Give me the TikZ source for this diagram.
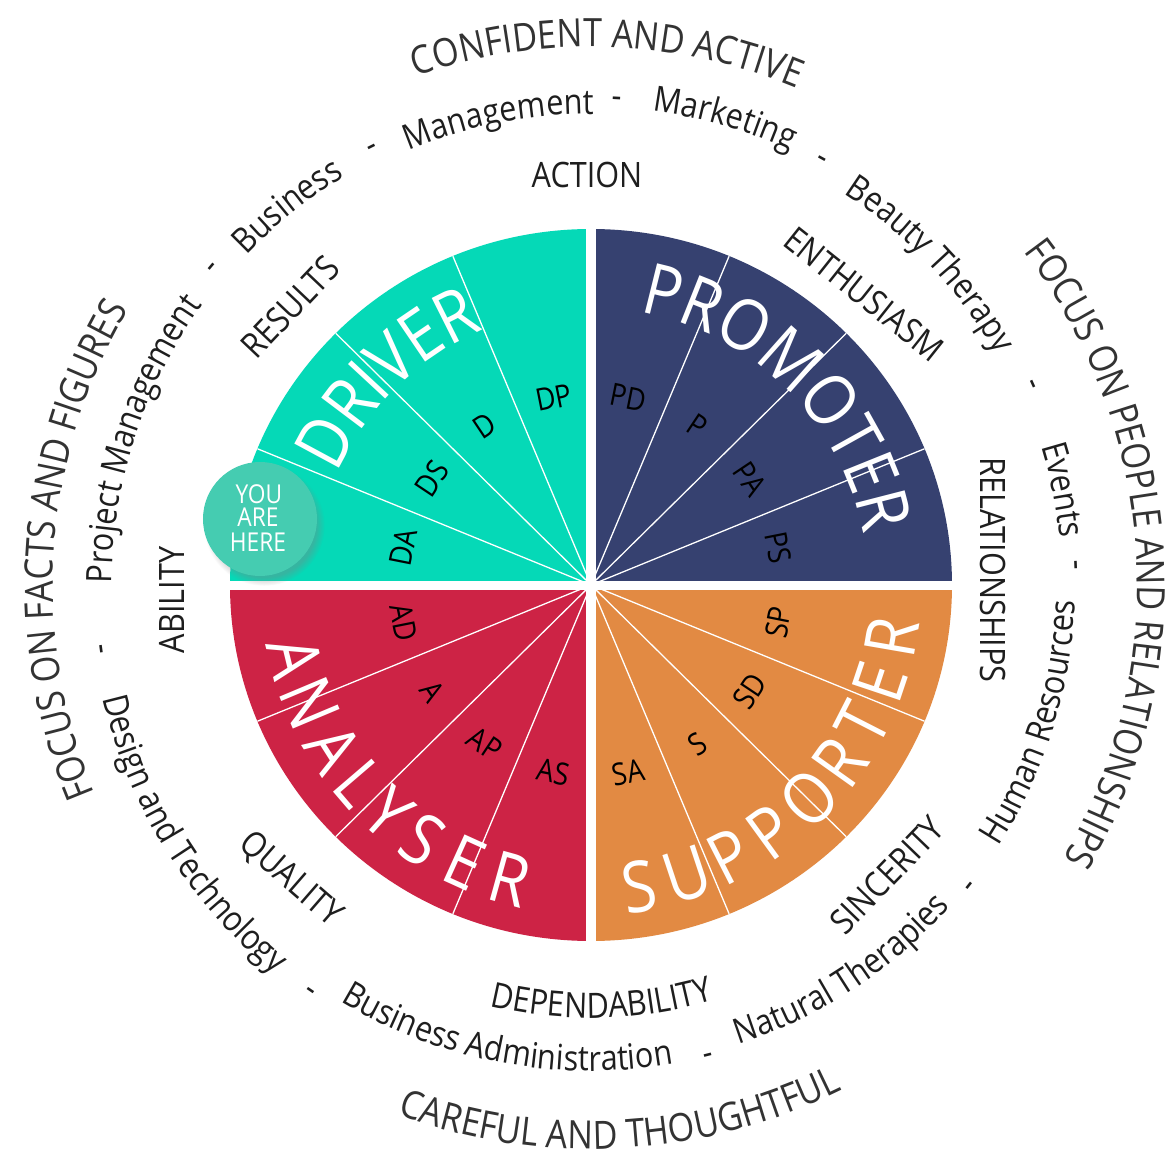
\documentclass[tikz,border=0pt]{standalone}
\usepackage{fontspec}
\setmainfont{Open Sans}[FakeStretch=0.875]
\usetikzlibrary{decorations.text,shadows}
\definecolor{cDriver}{HTML}{05D9B7}
\definecolor{cPromoter}{HTML}{364170}
\definecolor{cSupporter}{HTML}{E28A43}
\definecolor{cAnalyser}{HTML}{CD2345}
\definecolor{cHere}{HTML}{45CCB1}
\definecolor{cOuter}{HTML}{333333}
\definecolor{cMid}{HTML}{1E1E1E}
\newcommand\cwtext[4]{\path[decorate,decoration={text along path,text align=center,text={|#3|#4}}] ({#1+80}:#2) arc[start angle={#1+80},end angle={#1-80},radius=#2];}
\newcommand\ccwtext[4]{\path[decorate,decoration={text along path,text align=center,text={|#3|#4}}] ({#1-80}:#2) arc[start angle={#1-80},end angle={#1+80},radius=#2];}
\newcommand\outf{\fontsize{39}{45}\selectfont\color{cOuter}}
\newcommand\midf{\fontsize{35}{40}\selectfont\color{cMid}}
\newcommand\innf{\fontsize{35}{40}\selectfont\color{cMid}}
\newcommand\bigf{\fontsize{71}{80}\selectfont\color{white}}
\tikzset{
  innerlab/.style={font=\fontsize{35}{40}\selectfont, text=cMid, inner sep=0pt, text height=25pt, text depth=0pt},
  slicelab/.style={font=\fontsize{31}{35}\selectfont, text=black, inner sep=0pt, text height=22pt, text depth=0pt},
  herelab/.style={font=\fontsize{26}{30}\selectfont, text=white, inner sep=0pt, text height=18.5pt, text depth=0pt},
  bigletter/.style={font=\fontsize{71}{80}\selectfont, text=white, inner sep=0pt, text height=51pt, text depth=0pt},
  sliceline/.style={white, line width=1.3pt},
}
\begin{document}
\begin{tikzpicture}[x=1pt,y=1pt]
\fill[white] (-591,-572) rectangle (580,585);
\useasboundingbox (-591,-572) rectangle (580,585);
% quadrants
\fill[cPromoter] (0,0) -- (0,356) arc[start angle=90,end angle=0,x radius=361,y radius=356] -- cycle;
\fill[cDriver] (0,0) -- (-361,0) arc[start angle=180,end angle=90,x radius=361,y radius=356] -- cycle;
\fill[cAnalyser] (0,0) -- (-361,0) arc[start angle=180,end angle=270,x radius=361,y radius=356] -- cycle;
\fill[cSupporter] (0,0) -- (0,-356) arc[start angle=270,end angle=360,x radius=361,y radius=356] -- cycle;
% slice lines
\foreach \a in {22.5,45,67.5,112.5,135,157.5,202.5,225,247.5,292.5,315,337.5}
  \draw[sliceline] (0,0) -- ({361*cos(\a)},{356*sin(\a)});
% gaps
\fill[white] (-5,-370) rectangle (5,370);
\fill[white] (-370,-5) rectangle (370,4);
% big labels
\cwtext{134.5}{277}{\bigf}{DRIVER}
\cwtext{45.2}{277}{\bigf}{PROMOTER}
\foreach \c/\a/\n in {S/-80.9/1,U/-71.6/2,P/-62.9/3,P/-54.0/4,O/-44.4/5,R/-35.4/6,T/-27.1/7,E/-18.5/8,R/-9.8/9}
  \node[bigletter, rotate=\a+90] (sup\n) at (\a:305) {\c};
\foreach \c/\a/\n in {A/193.7/1,N/202.8/2,A/212.4/3,L/220.6/4,Y/228.3/5,S/236.6/6,E/245.6/7,R/254.5/8}
  \node[bigletter, rotate=\a+90] (ana\n) at (\a:305) {\c};
% slice labels
\foreach \t/\a/\r in {DA/168.75/-90,DS/146.25/-90,D/123.75/-90,DP/101.25/-90,PD/78.75/-90,P/56.25/-90,PA/33.75/-90,PS/11.25/-90,SP/-11.25/90,SD/-33.75/90,S/-56.25/90,SA/-78.75/90,AD/191.25/90,A/213.75/90,AP/236.25/90,AS/258.75/90}
  \node[slicelab, rotate=\a+\r] (l\t) at (\a:191) {\t};
% you are here
\node[circle, fill=cHere, minimum size=114pt, inner sep=0pt,
  circular drop shadow={shadow xshift=4pt, shadow yshift=-6pt, shadow scale=1.06, opacity=0.4}] (here) at (-331,66) {};
\node[herelab] (hereA) at (-332,91) {YOU};
\node[herelab] (hereB) at (-333,68) {ARE};
\node[herelab] (hereC) at (-333,43) {HERE};
% inner ring
\node[innerlab] (action) at (-4,410) {ACTION};
\node[innerlab, rotate=-38.5] (enth) at (273,291) {ENTHUSIASM};
\node[innerlab, rotate=-90] (rel) at (402,15) {RELATIONSHIPS};
\node[innerlab, rotate=46] (sinc) at (296,-290) {SINCERITY};
\node[innerlab, rotate=-41] (qual) at (-299,-293) {QUALITY};
\node[innerlab, rotate=90] (abil) at (-419,-15) {ABILITY};
\node[innerlab, rotate=46.5] (res) at (-301,278) {RESULTS};
\ccwtext{-88.5}{433}{\innf}{DEPENDABILITY}
% middle ring
\cwtext{128.7}{477}{\midf}{Business}
\cwtext{116.6}{481}{\midf}{-}
\cwtext{101.2}{471}{\midf}{Management}
\cwtext{87}{478}{\midf}{-}
\cwtext{74}{478}{\midf}{Marketing}
\cwtext{61.5}{476}{\midf}{-}
\cwtext{43.4}{466}{\midf}{Beauty Therapy}
\cwtext{24.4}{476}{\midf}{-}
\cwtext{11.4}{471}{\midf}{Events}
\cwtext{2.4}{476}{\midf}{-}
\ccwtext{-17.3}{484}{\midf}{Human Resources}
\ccwtext{-38.5}{492}{\midf}{-}
\ccwtext{-57}{482}{\midf}{Natural Therapies}
\ccwtext{-76}{494}{\midf}{-}
\ccwtext{-100.6}{486}{\midf}{Business Administration}
\ccwtext{-124.6}{502}{\midf}{-}
\ccwtext{-148}{501}{\midf}{Design and Technology}
\ccwtext{-172.5}{503}{\midf}{-}
\cwtext{162}{479}{\midf}{Project Management}
\cwtext{140}{486}{\midf}{-}
% outer ring
\cwtext{88.2}{538}{\outf}{CONFIDENT AND ACTIVE}
\cwtext{3.75}{546}{\outf}{FOCUS ON PEOPLE AND RELATIONSHIPS}
\ccwtext{-86.8}{564}{\outf}{CAREFUL AND THOUGHTFUL}
\cwtext{176}{538}{\outf}{FOCUS ON FACTS AND FIGURES}
\end{tikzpicture}
\end{document}
